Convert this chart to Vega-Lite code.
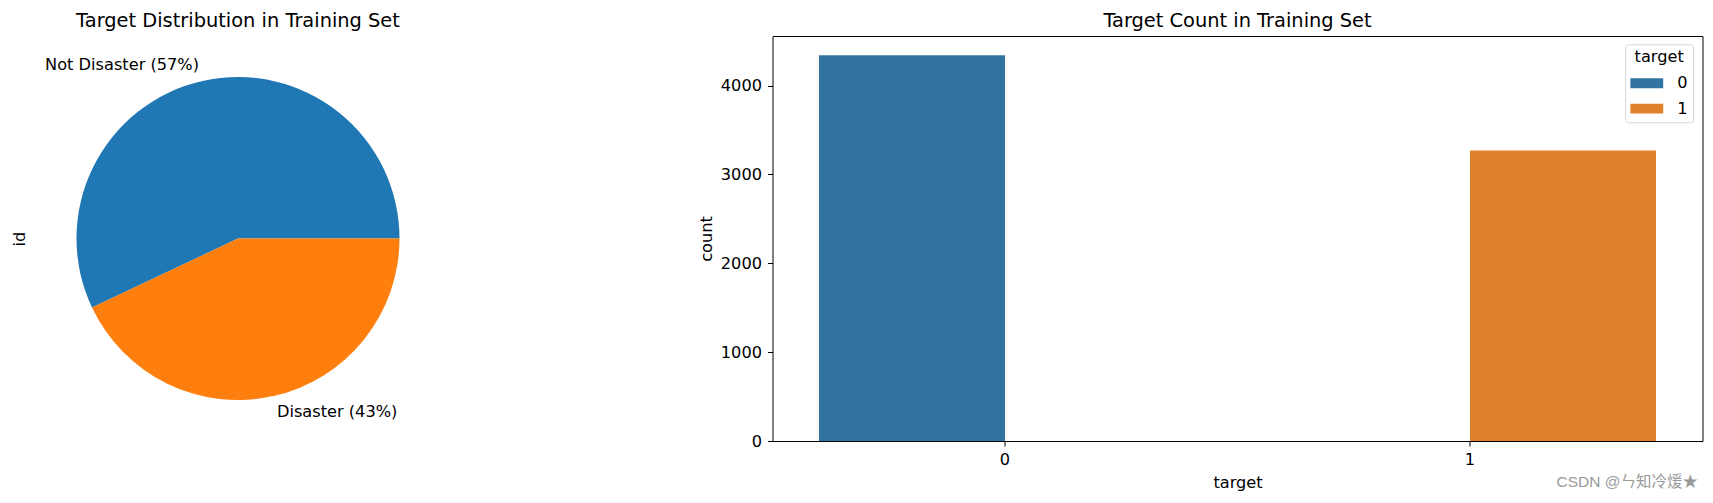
{
  "$schema": "https://vega.github.io/schema/vega-lite/v6.json",
  "padding": {"left": 11.5, "top": 10, "right": 0, "bottom": 0},
  "background": "white",
  "spacing": 257,
  "title": {"text": "CSDN @ㄣ知冷煖★", "orient": "bottom", "anchor": "end", "fontSize": 15.5, "fontWeight": "normal", "font": "Liberation Sans, Noto Sans CJK SC", "color": "#9a9a9a", "offset": -16, "dx": -5},
  "config": {
    "font": "DejaVu Sans",
    "title": {"fontSize": 19.4, "fontWeight": "normal", "color": "black", "offset": 5, "font": "DejaVu Sans"},
    "axis": {"labelFont": "DejaVu Sans", "titleFont": "DejaVu Sans", "labelFontSize": 16.2, "titleFontSize": 16.2, "titleFontWeight": "normal", "labelColor": "black", "titleColor": "black", "tickColor": "black", "grid": false, "domain": false, "tickSize": 5, "tickWidth": 1},
    "legend": {"labelFont": "DejaVu Sans", "titleFont": "DejaVu Sans", "labelFontSize": 16.2, "titleFontSize": 16.2, "titleFontWeight": "normal", "labelColor": "black", "titleColor": "black"}
  },
  "data": {"values": [
    {"target": 0, "label": "Not Disaster (57%)", "count": 4342},
    {"target": 1, "label": "Disaster (43%)", "count": 3271}
  ]},
  "hconcat": [
    {
      "title": "Target Distribution in Training Set",
      "width": 405,
      "height": 405,
      "view": {"stroke": null},
      "layer": [
        {
          "mark": {"type": "arc", "outerRadius": 161.5},
          "encoding": {
            "theta": {"field": "count", "type": "quantitative", "stack": true, "scale": {"range": [1.5708, 7.854]}},
            "order": {"field": "target", "sort": "descending"},
            "color": {"field": "target", "type": "nominal", "scale": {"domain": [0, 1], "range": ["#1f77b4", "#ff7f0e"]}, "legend": null}
          }
        },
        {
          "mark": {"type": "text", "radius": 177.65, "align": "right", "baseline": "middle", "fontSize": 16.2, "color": "black"},
          "encoding": {
            "theta": {"field": "count", "type": "quantitative", "stack": true, "scale": {"range": [1.5708, 7.854]}},
            "order": {"field": "target", "sort": "descending"},
            "text": {"condition": {"test": "datum.target == 0", "field": "label", "type": "nominal"}, "value": ""}
          }
        },
        {
          "mark": {"type": "text", "radius": 177.65, "align": "left", "baseline": "middle", "fontSize": 16.2, "color": "black"},
          "encoding": {
            "theta": {"field": "count", "type": "quantitative", "stack": true, "scale": {"range": [1.5708, 7.854]}},
            "order": {"field": "target", "sort": "descending"},
            "text": {"condition": {"test": "datum.target == 1", "field": "label", "type": "nominal"}, "value": ""}
          }
        },
        {
          "mark": {"type": "point", "opacity": 0},
          "encoding": {
            "y": {"field": "count", "type": "quantitative", "axis": {"title": "id", "labels": false, "ticks": false, "domain": false, "grid": false, "titlePadding": 8}}
          }
        }
      ]
    },
    {
      "title": "Target Count in Training Set",
      "width": 930,
      "height": 405,
      "view": {"stroke": "black", "strokeWidth": 1},
      "mark": {"type": "bar"},
      "encoding": {
        "x": {"field": "target", "type": "nominal", "scale": {"paddingInner": 0.2, "paddingOuter": 0.1}, "axis": {"labelAngle": 0, "title": "target", "labelPadding": 5, "titlePadding": 7.5}},
        "xOffset": {"field": "target", "type": "nominal", "scale": {"paddingInner": 0, "paddingOuter": 0}},
        "y": {"field": "count", "type": "quantitative", "scale": {"domain": [0, 4559], "nice": false}, "axis": {"values": [0, 1000, 2000, 3000, 4000], "format": "d", "title": "count", "labelPadding": 6, "titlePadding": 5.8}},
        "color": {"field": "target", "type": "nominal", "scale": {"domain": [0, 1], "range": ["#3274a1", "#e1812c"]},
          "legend": {"title": "target", "orient": "none", "legendX": 852.7, "legendY": 8.3, "symbolType": "M-1,-0.3H1V0.3H-1Z", "symbolSize": 1089, "symbolStrokeWidth": 0, "symbolOpacity": 1, "clipHeight": 16, "labelOffset": 14, "rowPadding": 8.3, "padding": 5, "titlePadding": 9.8, "titleAnchor": "middle", "strokeColor": "#d6d6d6", "cornerRadius": 3, "fillColor": "white"}}
      }
    }
  ],
  "resolve": {"scale": {"color": "independent", "x": "independent", "y": "independent", "theta": "independent"}, "legend": {"color": "independent"}}
}
